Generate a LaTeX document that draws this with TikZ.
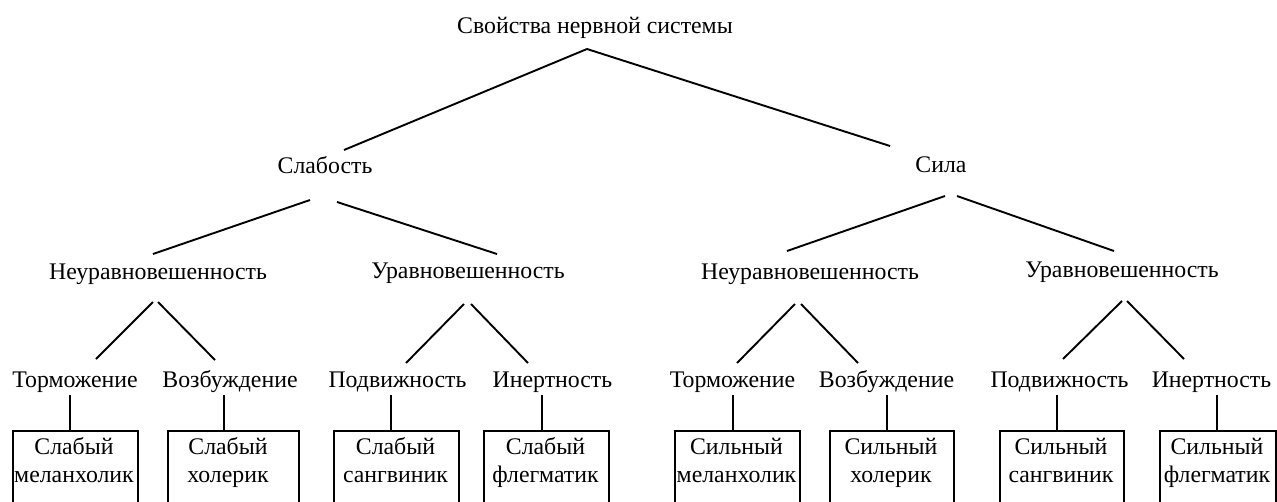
\documentclass[tikz,border=0pt]{standalone}
\usepackage{fontspec}
\setmainfont{Liberation Serif}
\begin{document}
\begin{tikzpicture}[x=1pt,y=-1pt,
  lbl/.style={inner sep=0pt, anchor=base, font=\fontsize{23.8}{27.5}\selectfont},
  btxt/.style={inner sep=0pt, anchor=base, align=center, font=\fontsize{23.8}{27.5}\selectfont},
  box/.style={draw, line width=1.9pt, inner sep=0pt, minimum height=100pt, anchor=north west},
  conn/.style={line width=1.9pt}]
\useasboundingbox (0,0) rectangle (1277,501);
% level 0-2
\node[lbl] (root) at (595,33) {Свойства нервной системы};
\node[lbl] (weak) at (325,173) {Слабость};
\node[lbl] (strong) at (941,172) {Сила};
\node[lbl] (wU) at (158,279) {Неуравновешенность};
\node[lbl] (wB) at (468,278) {Уравновешенность};
\node[lbl] (sU) at (810,279) {Неуравновешенность};
\node[lbl] (sB) at (1122,277) {Уравновешенность};
% level 3
\node[lbl] (t1) at (75,387) {Торможение};
\node[lbl] (t2) at (230,387) {Возбуждение};
\node[lbl] (t3) at (397.5,387) {Подвижность};
\node[lbl] (t4) at (552.5,387) {Инертность};
\node[lbl] (t5) at (732.5,387) {Торможение};
\node[lbl] (t6) at (886.5,387) {Возбуждение};
\node[lbl] (t7) at (1059.5,387) {Подвижность};
\node[lbl] (t8) at (1211.5,387) {Инертность};
% boxes
\node[box, minimum width=125pt] (b1) at (12,430) {};
\node[box, minimum width=131pt] (b2) at (167,430) {};
\node[box, minimum width=125pt] (b3) at (333,430) {};
\node[box, minimum width=125pt] (b4) at (483,430) {};
\node[box, minimum width=125pt] (b5) at (674,430) {};
\node[box, minimum width=124pt] (b6) at (829,430) {};
\node[box, minimum width=124pt] (b7) at (999,430) {};
\node[box, minimum width=116pt] (b8) at (1159,430) {};
\node[btxt] (x1) at (74,482) {Слабый\\меланхолик};
\node[btxt] (x2) at (228,482) {Слабый\\холерик};
\node[btxt] (x3) at (395.5,482) {Слабый\\сангвиник};
\node[btxt] (x4) at (545.5,482) {Слабый\\флегматик};
\node[btxt] (x5) at (736.5,482) {Сильный\\меланхолик};
\node[btxt] (x6) at (891,482) {Сильный\\холерик};
\node[btxt] (x7) at (1061,482) {Сильный\\сангвиник};
\node[btxt] (x8) at (1217,482) {Сильный\\флегматик};
% connectors
\draw[conn] ([shift={(-8,16)}]root.base) -- ([shift={(19,-23)}]weak.base);
\draw[conn] ([shift={(-8,16)}]root.base) -- ([shift={(-51,-26)}]strong.base);
\draw[conn] ([shift={(-15,27)}]weak.base) -- ([shift={(-5,-25)}]wU.base);
\draw[conn] ([shift={(12,29)}]weak.base) -- ([shift={(29,-24)}]wB.base);
\draw[conn] ([shift={(4,24)}]strong.base) -- ([shift={(-23,-28)}]sU.base);
\draw[conn] ([shift={(16,24)}]strong.base) -- ([shift={(-8,-26)}]sB.base);
\draw[conn] ([shift={(-5,23)}]wU.base) -- ([shift={(21,-28)}]t1.base);
\draw[conn] ([shift={(0,23)}]wU.base) -- ([shift={(-15,-27)}]t2.base);
\draw[conn] ([shift={(-4,26)}]wB.base) -- ([shift={(8.5,-24)}]t3.base);
\draw[conn] ([shift={(3,26)}]wB.base) -- ([shift={(-24.5,-24)}]t4.base);
\draw[conn] ([shift={(-15,25)}]sU.base) -- ([shift={(4.5,-24)}]t5.base);
\draw[conn] ([shift={(-9,25)}]sU.base) -- ([shift={(-28.5,-24)}]t6.base);
\draw[conn] ([shift={(0,24)}]sB.base) -- ([shift={(3.5,-28)}]t7.base);
\draw[conn] ([shift={(5,24)}]sB.base) -- ([shift={(-27.5,-28)}]t8.base);
\draw[conn] ([shift={(-5,8)}]t1.base) -- (b1.north west -| 70,0);
\draw[conn] ([shift={(-6,8)}]t2.base) -- (b2.north west -| 224,0);
\draw[conn] ([shift={(-6.5,8)}]t3.base) -- (b3.north west -| 391,0);
\draw[conn] ([shift={(-10.5,8)}]t4.base) -- (b4.north west -| 542,0);
\draw[conn] ([shift={(0.5,8)}]t5.base) -- (b5.north west -| 733,0);
\draw[conn] ([shift={(0.5,8)}]t6.base) -- (b6.north west -| 887,0);
\draw[conn] ([shift={(-2.5,8)}]t7.base) -- (b7.north west -| 1057,0);
\draw[conn] ([shift={(5.5,8)}]t8.base) -- (b8.north west -| 1217,0);
\end{tikzpicture}
\end{document}
